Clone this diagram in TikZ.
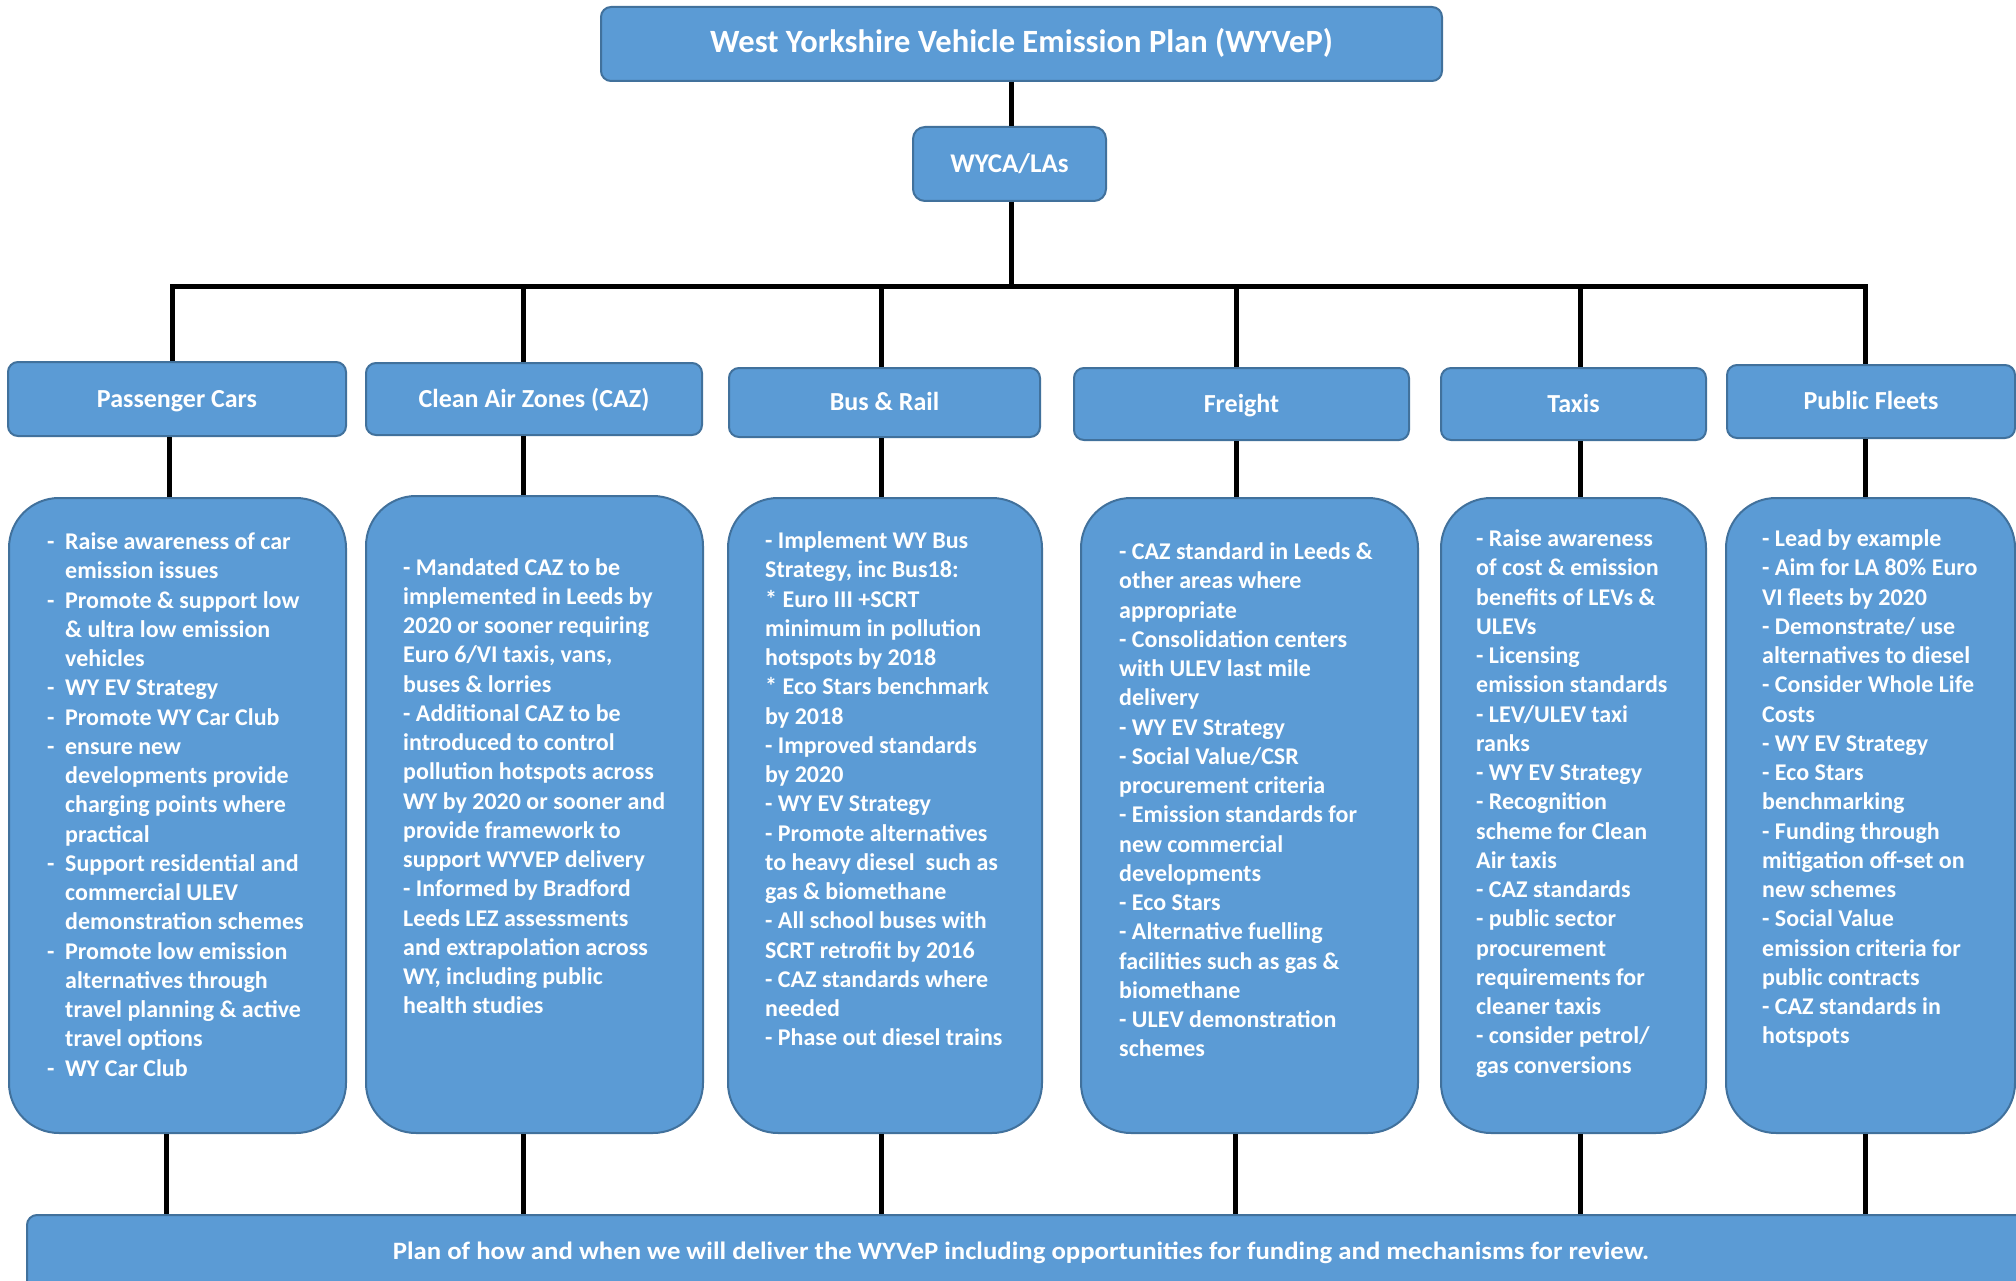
\documentclass[tikz,border=0pt]{standalone}
\usepackage{fontspec}
\setmainfont{Carlito}
\definecolor{boxfill}{HTML}{5B9BD5}
\definecolor{boxline}{HTML}{41719C}
\newcommand\dl[1]{\strut\makebox[18pt][l]{-}#1}
\newcommand\cl[1]{\strut\hspace*{18pt}#1}
\tikzset{
  box/.style={draw=boxline, line width=2pt, fill=boxfill, text=white, inner sep=0pt},
  catbox/.style={box, rounded corners=10pt, font=\fontsize{26}{31}\selectfont\bfseries, text height=19.5pt, text depth=3.5pt},
  conbox/.style={box, rounded corners=50pt},
  conn/.style={line width=5pt, black},
  txt/.style={text=white, anchor=north west, inner sep=0pt, align=left, font=\fontsize{24}{29.25}\selectfont\bfseries},
}
\begin{document}
\begin{tikzpicture}[x=1pt,y=-1pt]
\clip (0,0) rectangle (2016,1281);
\fill[white] (0,0) rectangle (2016,1281);

% top boxes
\node[box, rounded corners=10pt, minimum width=841pt, minimum height=74pt, font=\fontsize{32.5}{38}\selectfont\bfseries, text height=22pt, text depth=4pt] (title) at (1021.5,44) {West Yorkshire Vehicle Emission Plan (WYVeP)};
\node[box, rounded corners=12pt, minimum width=193pt, minimum height=74pt, font=\fontsize{27}{32}\selectfont\bfseries, text height=21pt, text depth=3pt] (wyca) at (1009.5,164) {WYCA/LAs};

% category boxes
\node[catbox, minimum width=338pt, minimum height=74pt] (c1) at (177,399) {Passenger Cars};
\node[catbox, minimum width=336pt, minimum height=72pt] (c2) at (534,399) {Clean Air Zones (CAZ)};
\node[catbox, minimum width=311pt, minimum height=69pt] (c3) at (884.5,402.5) {Bus \& Rail};
\node[catbox, minimum width=335pt, minimum height=72pt] (c4) at (1241.5,404) {Freight};
\node[catbox, minimum width=265pt, minimum height=72pt] (c5) at (1573.5,404) {Taxis};
\node[catbox, minimum width=288pt, minimum height=73pt] (c6) at (1871,401.5) {Public Fleets};

% content boxes
\node[conbox, minimum width=337pt, minimum height=635pt] (b1) at (177.5,815.5) {};
\node[conbox, minimum width=337pt, minimum height=637pt] (b2) at (534.5,814.5) {};
\node[conbox, minimum width=314pt, minimum height=635pt] (b3) at (885,815.5) {};
\node[conbox, minimum width=337pt, minimum height=635pt] (b4) at (1249.5,815.5) {};
\node[conbox, minimum width=265pt, minimum height=635pt] (b5) at (1573.5,815.5) {};
\node[conbox, minimum width=289pt, minimum height=635pt] (b6) at (1870.5,815.5) {};

% bottom box
\node[box, rounded corners=10pt, minimum width=2003pt, minimum height=105pt] (bot) at (1028.5,1267.5) {};
\node[text=white, inner sep=0pt, anchor=base, font=\fontsize{25}{30}\selectfont\bfseries] (bottxt) at (1021,1259) {\scalebox{1.071}[1]{Plan of how and when we will deliver the WYVeP including opportunities for funding and mechanisms for review.}};

% texts
\node[txt] (t1) at (47,529) {\dl{Raise awareness of car}\\ \cl{emission issues}\\ \dl{Promote \& support low}\\ \cl{\& ultra low emission}\\ \cl{vehicles}\\ \dl{WY EV Strategy}\\ \dl{Promote WY Car Club}\\ \dl{ensure new}\\ \cl{developments provide}\\ \cl{charging points where}\\ \cl{practical}\\ \dl{Support residential and}\\ \cl{commercial ULEV}\\ \cl{demonstration schemes}\\ \dl{Promote low emission}\\ \cl{alternatives through}\\ \cl{travel planning \& active}\\ \cl{travel options}\\ \dl{WY Car Club}};

\node[txt] (t2) at (403,554.5) {\strut- Mandated CAZ to be\\ implemented in Leeds by\\ 2020 or sooner requiring\\ Euro 6/VI taxis, vans,\\ buses \& lorries\\ - Additional CAZ to be\\ introduced to control\\ pollution hotspots across\\ WY by 2020 or sooner and\\ provide framework to\\ support WYVEP delivery\\ - Informed by Bradford\\ Leeds LEZ assessments\\ and extrapolation across\\ WY, including public\\ health studies};

\node[txt] (t3) at (765,528) {\strut- Implement WY Bus\\ Strategy, inc Bus18:\\ * Euro III +SCRT\\ minimum in pollution\\ hotspots by 2018\\ * Eco Stars benchmark\\ by 2018\\ - Improved standards\\ by 2020\\ - WY EV Strategy\\ - Promote alternatives\\ to heavy diesel\ \ such as\\ gas \& biomethane\\ - All school buses with\\ SCRT retrofit by 2016\\ - CAZ standards where\\ needed\\ - Phase out diesel trains};

\node[txt] (t4) at (1119,539) {\strut- CAZ standard in Leeds \&\\ other areas where\\ appropriate\\ - Consolidation centers\\ with ULEV last mile\\ delivery\\ - WY EV Strategy\\ - Social Value/CSR\\ procurement criteria\\ - Emission standards for\\ new commercial\\ developments\\ - Eco Stars\\ - Alternative fuelling\\ facilities such as gas \&\\ biomethane\\ - ULEV demonstration\\ schemes};

\node[txt] (t5) at (1476,526) {\strut- Raise awareness\\ of cost \& emission\\ benefits of LEVs \&\\ ULEVs\\ - Licensing\\ emission standards\\ - LEV/ULEV taxi\\ ranks\\ - WY EV Strategy\\ - Recognition\\ scheme for Clean\\ Air taxis\\ - CAZ standards\\ - public sector\\ procurement\\ requirements for\\ cleaner taxis\\ - consider petrol/\\ gas conversions};

\node[txt] (t6) at (1762,526) {\strut- Lead by example\\ - Aim for LA 80\% Euro\\ VI fleets by 2020\\ - Demonstrate/ use\\ alternatives to diesel\\ - Consider Whole Life\\ Costs\\ - WY EV Strategy\\ - Eco Stars\\ benchmarking\\ - Funding through\\ mitigation off-set on\\ new schemes\\ - Social Value\\ emission criteria for\\ public contracts\\ - CAZ standards in\\ hotspots};

% connectors
\coordinate (jt) at (1011,287);
\coordinate (j1) at (172,287);
\coordinate (j6) at (1865,287);
\draw[conn] (title.south -| jt) -- (wyca.north -| jt);
\draw[conn] (wyca.south -| jt) -- (jt);
\draw[conn, line join=miter] (c1.north -| j1) -- (j1) -- (j6) -- (c6.north -| j6);
\foreach \c/\x in {c2/523, c3/881, c4/1236, c5/1580} {
  \draw[conn] (\c.north -| \x,0) -- (\x,287);
}
\foreach \c/\b/\x in {c1/b1/169, c2/b2/523, c3/b3/881, c4/b4/1236, c5/b5/1580, c6/b6/1865} {
  \draw[conn] (\c.south -| \x,0) -- (\b.north -| \x,0);
}
\foreach \b/\x in {b1/166, b2/523, b3/881, b4/1235, b5/1580, b6/1865} {
  \draw[conn] (\b.south -| \x,0) -- (bot.north -| \x,0);
}
\end{tikzpicture}
\end{document}
